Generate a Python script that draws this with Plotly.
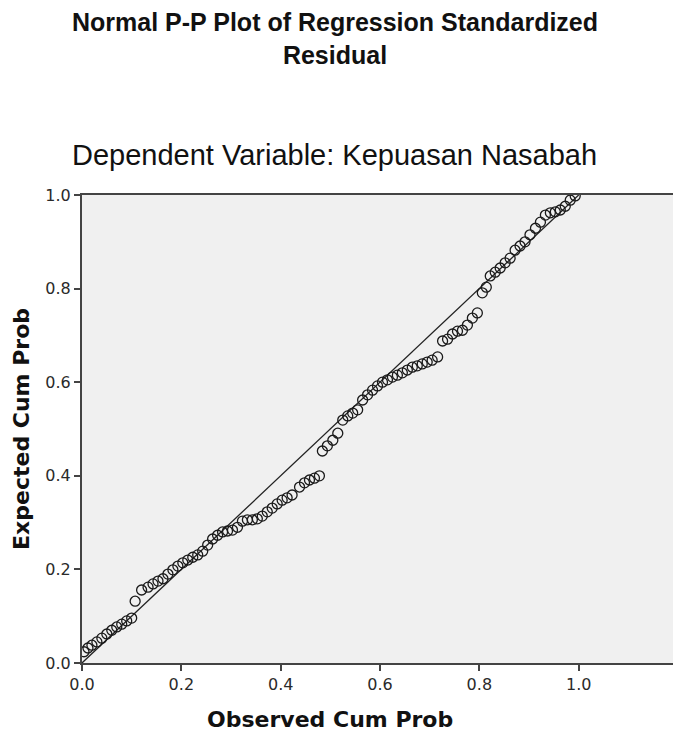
import plotly.graph_objects as go

observed_cum_prob = [
    0.004, 0.012, 0.020, 0.030, 0.040, 0.050, 0.060, 0.070, 0.080, 0.090,
    0.100, 0.107, 0.120, 0.133, 0.143, 0.153, 0.163, 0.173, 0.183, 0.193,
    0.203, 0.213, 0.223, 0.233, 0.243, 0.253, 0.263, 0.273, 0.283, 0.293,
    0.303, 0.313, 0.323, 0.333, 0.343, 0.353, 0.363, 0.373, 0.383, 0.393,
    0.403, 0.413, 0.423, 0.438, 0.448, 0.458, 0.468, 0.478, 0.484, 0.494,
    0.505, 0.515, 0.525, 0.535, 0.545, 0.555, 0.565, 0.575, 0.585, 0.595,
    0.605, 0.615, 0.625, 0.635, 0.645, 0.655, 0.665, 0.675, 0.685, 0.695,
    0.705, 0.716, 0.726, 0.736, 0.746, 0.756, 0.766, 0.776, 0.786, 0.796,
    0.806, 0.814, 0.822, 0.832, 0.842, 0.852, 0.862, 0.872, 0.882, 0.892,
    0.902, 0.913, 0.923, 0.933, 0.943, 0.953, 0.963, 0.973, 0.983, 0.993,
]
expected_cum_prob = [
    0.024, 0.032, 0.038, 0.045, 0.053, 0.062, 0.070, 0.077, 0.083, 0.090,
    0.096, 0.132, 0.156, 0.162, 0.169, 0.175, 0.180, 0.190, 0.199, 0.207,
    0.214, 0.220, 0.226, 0.231, 0.239, 0.252, 0.265, 0.273, 0.280, 0.282,
    0.284, 0.290, 0.303, 0.306, 0.306, 0.308, 0.314, 0.323, 0.331, 0.340,
    0.348, 0.353, 0.359, 0.376, 0.385, 0.391, 0.395, 0.400, 0.453, 0.464,
    0.476, 0.491, 0.519, 0.528, 0.534, 0.541, 0.562, 0.573, 0.583, 0.592,
    0.600, 0.605, 0.611, 0.615, 0.620, 0.626, 0.632, 0.635, 0.639, 0.643,
    0.647, 0.654, 0.688, 0.692, 0.703, 0.709, 0.711, 0.722, 0.737, 0.748,
    0.791, 0.803, 0.827, 0.835, 0.844, 0.855, 0.865, 0.882, 0.891, 0.900,
    0.915, 0.929, 0.942, 0.957, 0.962, 0.964, 0.968, 0.976, 0.989, 0.998,
]
ref_line_x = [0.0, 1.0]
ref_line_y = [0.0, 1.0]
tick_vals = [0.0, 0.2, 0.4, 0.6, 0.8, 1.0]
tick_text = ["0.0", "0.2", "0.4", "0.6", "0.8", "1.0"]

fig = go.Figure()
fig.add_trace(go.Scatter(x=ref_line_x, y=ref_line_y, mode="lines",
                         line=dict(color="#222222", width=1.3),
                         showlegend=False, hoverinfo="skip"))
fig.add_trace(go.Scatter(x=observed_cum_prob, y=expected_cum_prob, mode="markers",
                         marker=dict(symbol="circle-open", size=10,
                                     color="#1a1a1a", line=dict(width=1.3)),
                         showlegend=False))

axis_common = dict(
    showgrid=False, zeroline=False, showline=True, linecolor="#444444",
    linewidth=2, mirror=True, ticks="outside", ticklen=6, tickwidth=2,
    tickcolor="#444444", tickvals=tick_vals, ticktext=tick_text,
    tickfont=dict(family="DejaVu Sans", size=16, color="#2a2a2a"),
)
axis_title_font = dict(family="DejaVu Sans", size=22, color="#111111")
fig.update_xaxes(range=[0, 1.2], **axis_common)
fig.update_yaxes(range=[0, 1.0], **axis_common,
                 title=dict(text="<b>Expected Cum Prob</b>", standoff=10,
                            font=axis_title_font))

fig.update_layout(
    width=673, height=727,
    margin=dict(l=74, r=1, t=187, b=72),
    plot_bgcolor="#F0F0F0", paper_bgcolor="#FFFFFF",
    annotations=[
        dict(text="<b>Normal P-P Plot of Regression Standardized<br>Residual</b>",
             xref="paper", yref="paper", x=0.425, y=(663 - 38) / 468,
             showarrow=False, xanchor="center", yanchor="middle",
             font=dict(family="Liberation Sans, Arial", size=25, color="#111111")),
        dict(text="Dependent Variable: Kepuasan Nasabah",
             xref="paper", yref="paper", x=0.423, y=(663 - 155) / 468,
             showarrow=False, xanchor="center", yanchor="middle",
             font=dict(family="Liberation Sans, Arial", size=29, color="#111111")),
        dict(text="<b>Observed Cum Prob</b>",
             xref="x", yref="paper", x=0.5, y=(663 - 719) / 468,
             showarrow=False, xanchor="center", yanchor="middle",
             font=axis_title_font),
    ],
)
fig.write_html("out.html")
